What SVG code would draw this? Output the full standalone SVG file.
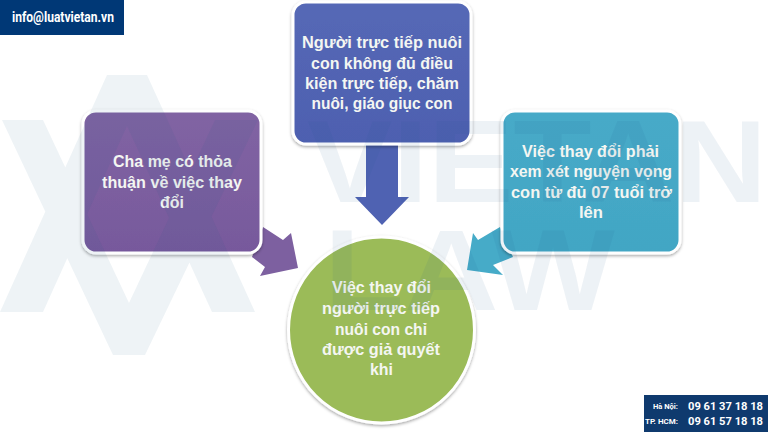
<svg xmlns="http://www.w3.org/2000/svg" width="768" height="432" viewBox="0 0 768 432">
<style>
.t{font-family:"Liberation Sans",Arial,sans-serif;font-weight:700;font-size:16.500px;fill:#f4f6f2;text-anchor:middle}
.w{font-family:"Liberation Sans",sans-serif;font-weight:700;fill:#1f5a8c}
.c{font-family:"Roboto","Liberation Sans",sans-serif;font-weight:700;fill:#fff}
.box{stroke:#fff;stroke-width:3;filter:url(#s)}
</style>
<defs>
<filter id="s" x="-10%" y="-10%" width="120%" height="120%"><feDropShadow dx="0" dy="1.5" stdDeviation="1.5" flood-color="#000" flood-opacity=".35"/></filter>
<linearGradient id="p" x1="0" y1="0" x2="0" y2="1"><stop offset="0" stop-color="#8164a3"/><stop offset="1" stop-color="#77599c"/></linearGradient>
<linearGradient id="b" x1="0" y1="0" x2="0" y2="1"><stop offset="0" stop-color="#5568b6"/><stop offset="1" stop-color="#4e60b0"/></linearGradient>
<linearGradient id="g" x1="0" y1="0" x2="0" y2="1"><stop offset="0" stop-color="#47aac8"/><stop offset="1" stop-color="#42a6c4"/></linearGradient>
</defs>
<rect width="768" height="432" fill="#fff"/>
<g id="connectors">
<path d="M263 227L283 240L291 233L298 268L260 276L265 267L252 257Z" fill="#7d60a0"/>
<path d="M366 143H398V197H409L382 225L355 197H366Z" fill="#4f62b2"/>
<path d="M500 227L478 240L473 233L467 270L503 275L493 265L513 257Z" fill="#46abc8"/>
</g>
<g id="node-parents"><rect class="box" x="83" y="111" width="178" height="142" rx="13" fill="url(#p)"/>
<text class="t" x="172.500" y="167" textLength="119" lengthAdjust="spacingAndGlyphs">Cha mẹ có thỏa</text><text class="t" x="172" y="187.500" textLength="140" lengthAdjust="spacingAndGlyphs">thuận về việc thay</text><text class="t" x="172" y="207.500" textLength="24" lengthAdjust="spacingAndGlyphs">đổi</text></g>
<g id="node-caregiver"><rect class="box" x="293" y="2" width="178" height="142" rx="13" fill="url(#b)"/>
<text class="t" x="382" y="48" textLength="160" lengthAdjust="spacingAndGlyphs">Người trực tiếp nuôi</text><text class="t" x="382" y="68.500" textLength="142" lengthAdjust="spacingAndGlyphs">con không đủ điều</text><text class="t" x="382" y="89" textLength="154" lengthAdjust="spacingAndGlyphs">kiện trực tiếp, chăm</text><text class="t" x="382" y="109" textLength="141" lengthAdjust="spacingAndGlyphs">nuôi, giáo giục con</text></g>
<g id="node-child"><rect class="box" x="502" y="111" width="178" height="142" rx="13" fill="url(#g)"/>
<text class="t" x="590.500" y="157" textLength="137" lengthAdjust="spacingAndGlyphs">Việc thay đổi phải</text><text class="t" x="591" y="177" textLength="162" lengthAdjust="spacingAndGlyphs">xem xét nguyện vọng</text><text class="t" x="591.500" y="197.500" textLength="161" lengthAdjust="spacingAndGlyphs">con từ đủ 07 tuổi trở</text><text class="t" x="591" y="217.500" textLength="24" lengthAdjust="spacingAndGlyphs">lên</text></g>
<g id="node-center"><circle class="box" cx="381.500" cy="330" r="93" fill="#9bbb59"/>
<text class="t" x="381.500" y="293" textLength="99" lengthAdjust="spacingAndGlyphs">Việc thay đổi</text><text class="t" x="381" y="313.500" textLength="118" lengthAdjust="spacingAndGlyphs">người trực tiếp</text><text class="t" x="381" y="334.500" textLength="92" lengthAdjust="spacingAndGlyphs">nuôi con chỉ</text><text class="t" x="381" y="355" textLength="118" lengthAdjust="spacingAndGlyphs">được giả quyết</text><text class="t" x="381.500" y="375" textLength="23" lengthAdjust="spacingAndGlyphs">khi</text></g>
<g id="watermark" opacity=".075">
<path fill="#1f5a8c" d="M107 75H147L255 312H212L127 126L43 312H0ZM2 120H43L129 303L215 120H258L145 355H113Z"/>
<text class="w" x="307" y="202" font-size="117" textLength="460" lengthAdjust="spacingAndGlyphs">VIETAN</text>
<text class="w" x="324" y="310" font-size="115" textLength="291" lengthAdjust="spacingAndGlyphs">LAW</text>
</g>
<g id="header"><rect width="124" height="35" fill="#003876"/>
<text class="c" x="12" y="22" font-size="14" textLength="102" lengthAdjust="spacingAndGlyphs">info@luatvietan.vn</text></g>
<g id="phones"><rect x="644" y="395" width="124" height="37" fill="#0f3a6e"/>
<text class="c" x="653" y="409" font-size="8" textLength="25" lengthAdjust="spacingAndGlyphs">Hà Nội:</text>
<text class="c" x="645" y="424" font-size="8" textLength="33" lengthAdjust="spacingAndGlyphs">TP. HCM:</text>
<text class="c" x="688" y="410" font-size="11.800" textLength="75" lengthAdjust="spacingAndGlyphs">09 61 37 18 18</text>
<text class="c" x="688" y="425" font-size="11.800" textLength="75" lengthAdjust="spacingAndGlyphs">09 61 57 18 18</text></g>
</svg>
